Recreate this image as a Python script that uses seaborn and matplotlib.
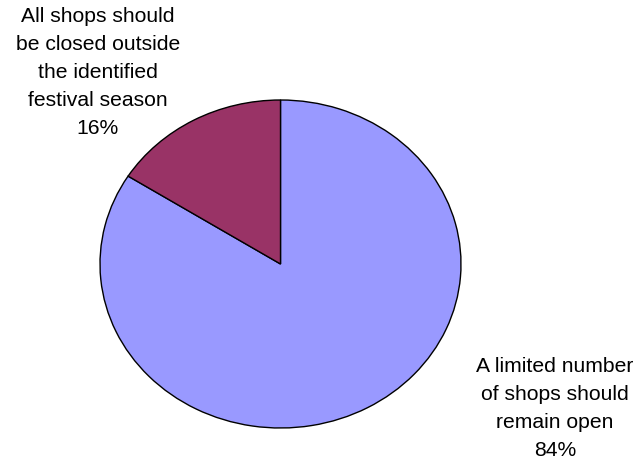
import matplotlib
matplotlib.use("Agg")
import matplotlib.pyplot as plt
import seaborn as sns

categories = ["A limited number\nof shops should\nremain open",
              "All shops should\nbe closed outside\nthe identified\nfestival season"]
values = [84, 16]
colors_hex = ["#9999FF", "#993366"]

sns.set_theme(style="white")
plt.rcParams['font.family'] = ['Liberation Sans', 'DejaVu Sans']
palette = sns.color_palette(colors_hex)

fig = plt.figure(figsize=(6.4, 4.59), dpi=100)
fig.patch.set_facecolor("white")
W, H = 640, 459
ax = fig.add_axes([100 / W, 31 / H, 361 / W, 328 / H])
wedges, _ = ax.pie(values, colors=palette, startangle=90, counterclock=False,
                   wedgeprops=dict(edgecolor="black", linewidth=1.0))
ax.set_aspect("auto")
ax.set_xlim(-1, 1)
ax.set_ylim(-1, 1)
ax.axis("off")

total = sum(values)
label_pos = [(555 / W, 1 - 408.5 / H), (98 / W, 1 - 72.5 / H)]
for cat, v, (x, y) in zip(categories, values, label_pos):
    fig.text(x, y, f"{cat}\n{round(100 * v / total)}%", ha="center", va="center",
             fontsize=15.2, linespacing=1.6, color="black")

fig.savefig("out.png", dpi=100, facecolor="white")
